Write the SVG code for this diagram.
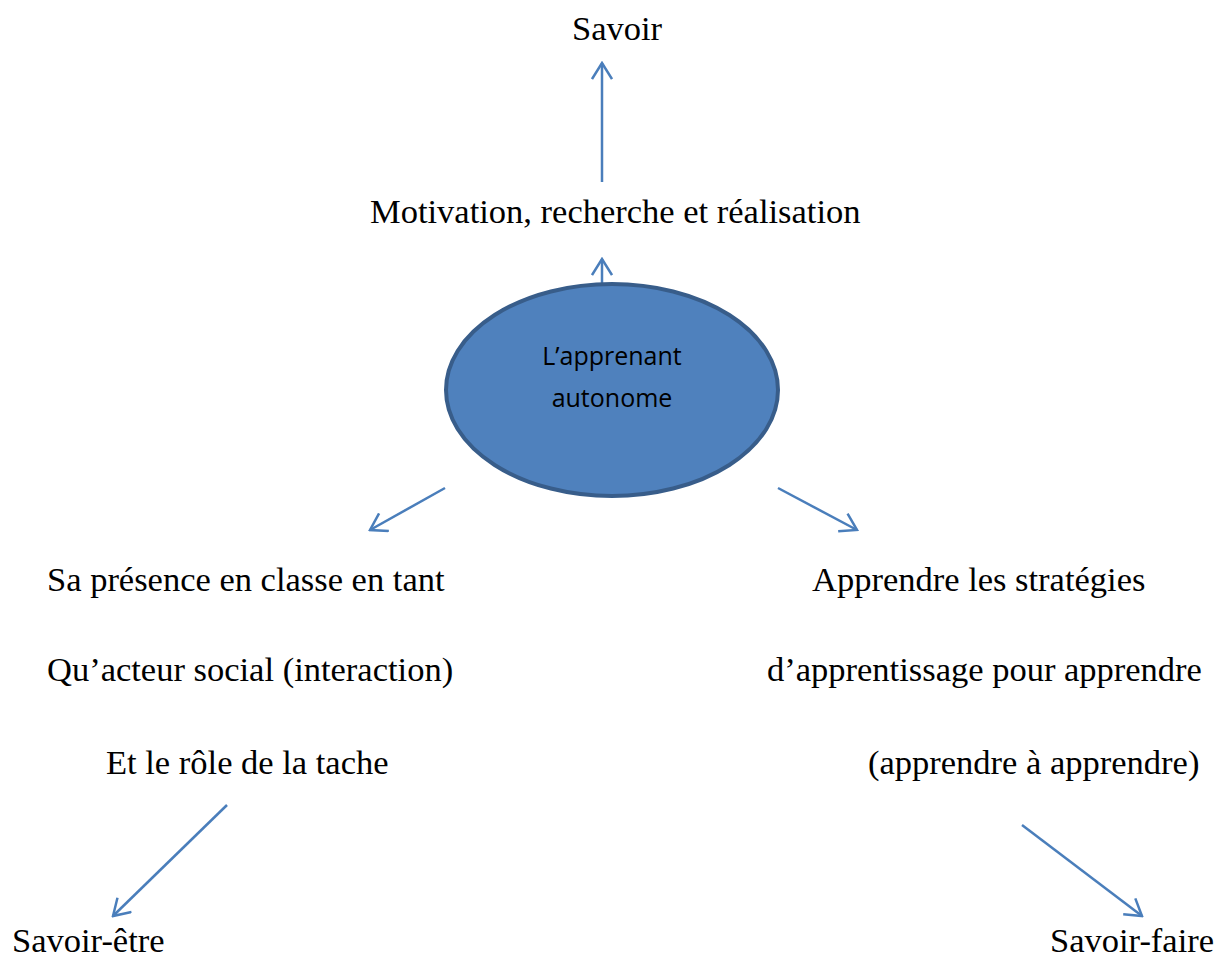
<svg xmlns="http://www.w3.org/2000/svg" width="1218" height="960" viewBox="0 0 1218 960">
  <defs>
    <marker id="open-arrow" viewBox="0 0 20 22" refX="18" refY="11" markerWidth="20" markerHeight="22" markerUnits="userSpaceOnUse" orient="auto">
      <path d="M2,1 L18,11 L2,21" fill="none" stroke="#4A7EBB" stroke-width="2.5"/>
    </marker>
  </defs>
  <style>
    .lbl { font-family: "Liberation Serif", "Times New Roman", serif; font-size: 34.5px; fill: #000; }
    .core { font-family: "Open Sans", "Liberation Sans", sans-serif; font-size: 25px; fill: #000; }
    .conn { stroke: #4A7EBB; stroke-width: 2.5; fill: none; marker-end: url(#open-arrow); }
  </style>
  <rect width="1218" height="960" fill="#fff"/>

  <g id="connectors">
    <line class="conn" x1="602" y1="182" x2="602" y2="63"/>
    <line class="conn" x1="602" y1="283" x2="602" y2="259"/>
    <line class="conn" x1="445" y1="488" x2="370" y2="530"/>
    <line class="conn" x1="778" y1="488" x2="857" y2="530"/>
    <line class="conn" x1="227" y1="805" x2="113" y2="916"/>
    <line class="conn" x1="1022" y1="825" x2="1142" y2="916"/>
  </g>

  <g id="node-center">
    <ellipse cx="612" cy="390" rx="166" ry="106" fill="#4F81BD" stroke="#385D8A" stroke-width="4"/>
    <text class="core" x="612" y="365" text-anchor="middle">L’apprenant</text>
    <text class="core" x="612" y="407" text-anchor="middle">autonome</text>
  </g>

  <g id="node-savoir">
    <text class="lbl" x="617" y="40" text-anchor="middle">Savoir</text>
  </g>

  <g id="node-motivation">
    <text class="lbl" x="370" y="223">Motivation, recherche et réalisation</text>
  </g>

  <g id="node-presence">
    <text class="lbl" x="47" y="591">Sa présence en classe en tant</text>
    <text class="lbl" x="47" y="681">Qu’acteur social (interaction)</text>
    <text class="lbl" x="106" y="774">Et le rôle de la tache</text>
  </g>

  <g id="node-strategies">
    <text class="lbl" x="812" y="591">Apprendre les stratégies</text>
    <text class="lbl" x="767" y="681">d’apprentissage pour apprendre</text>
    <text class="lbl" x="868" y="774">(apprendre à apprendre)</text>
  </g>

  <g id="node-savoir-etre">
    <text class="lbl" x="12" y="952">Savoir-être</text>
  </g>

  <g id="node-savoir-faire">
    <text class="lbl" x="1050" y="952">Savoir-faire</text>
  </g>
</svg>
